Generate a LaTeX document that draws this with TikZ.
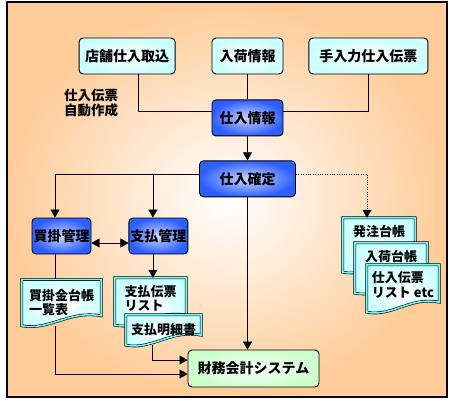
\documentclass[tikz,border=0pt]{standalone}
\usepackage{fontspec}
\setmainfont{Noto Sans CJK JP}
\usetikzlibrary{arrows.meta,positioning,calc}
\definecolor{bgor}{RGB}{255,204,153}
\definecolor{ltcyan}{RGB}{204,255,255}
\definecolor{midcyan}{RGB}{110,250,255}
\definecolor{nodeblue}{RGB}{45,95,255}
\definecolor{paleblue}{RGB}{205,215,255}
\definecolor{ltgreen}{RGB}{204,255,204}
\pgfdeclarelayer{docs}
\pgfsetlayers{docs,main}
\tikzset{
  box/.style={draw, rounded corners=4pt, line width=0.9pt, minimum height=36pt,
    inner sep=1pt, font=\fontsize{14}{16}\selectfont\bfseries},
  cyanbox/.style={box, inner color=white, outer color=ltcyan},
  bluebox/.style={box, inner color=paleblue, outer color=nodeblue},
  greenbox/.style={box, inner color=white, outer color=ltgreen},
  doc/.style={inner sep=0pt, align=left, font=\fontsize{13}{14.5}\selectfont\bfseries},
  docline/.style={draw=black, line width=0.6pt, double=midcyan, double distance=1.5pt,
    inner color=white, outer color=ltcyan},
}
% document outline: #1 node, #2 extra depth below the node
\newcommand{\docshape}[2]{%
  \shadedraw[docline] (#1.north west) -- (#1.north east) -- ([yshift=10pt-#2]#1.south east)
    .. controls ($([yshift=-#2]#1.south west)!0.6!([yshift=-#2]#1.south east)+(0,16pt)$)
    and ($([yshift=-#2]#1.south west)!0.35!([yshift=-#2]#1.south east)+(0,-5pt)$)
    .. ([yshift=-#2]#1.south west) -- cycle;}

\begin{document}
\begin{tikzpicture}[x=1pt, y=-1pt, >={Triangle[width=9pt,length=8pt]}, line width=1pt]
  \useasboundingbox (0,0) rectangle (452,401);
  \begin{pgfonlayer}{docs}
    \shade[inner color=white, outer color=bgor] (7,2) rectangle (447,397);
    \draw[line width=1.4pt] (7,2) rectangle (447,397);
  \end{pgfonlayer}

  % input boxes
  \node[cyanbox, minimum width=71pt] (arr) at (247.5,56) {入荷情報};
  \node[cyanbox, minimum width=96pt, left=36pt of arr] (shop) {店舗仕入取込};
  \node[cyanbox, minimum width=119pt, right=25pt of arr] (manual) {手入力仕入伝票};
  \node[bluebox, minimum width=71pt, below=25pt of arr] (info) {仕入情報};
  \node[bluebox, minimum width=96pt, below=24pt of info] (fix) {仕入確定};
  \node (auto) at (91,103) [inner sep=0pt, align=left, font=\fontsize{13.5}{11}\selectfont\bfseries] {仕入伝票\\自動作成};

  % management
  \node[bluebox, minimum width=59pt] (kaikake) at (61.5,236) {買掛管理};
  \node[bluebox, minimum width=59pt, right=37pt of kaikake] (shiharai) {支払管理};
  \node[greenbox, minimum width=131pt, minimum height=37pt] (fin) at (253.5,368.5) {財務会計システム};

  % documents
  \node[doc, minimum width=79pt, minimum height=46pt, below=25pt of kaikake] (ledger) {買掛金台帳\\一覧表};
  \node[doc, minimum width=71pt, minimum height=41pt] (slip) at (150.5,298.5) {支払伝票\\リスト};
  \node[doc, minimum width=75pt, minimum height=30pt] (meisai) at (163.5,330) {支払明細書};
  \node[doc, minimum width=72pt, minimum height=28pt] (hacchu) at (379,232) {発注台帳};
  \node[doc, minimum width=72pt, minimum height=26pt] (nyuka) at (391,256) {入荷台帳};
  \node[doc, minimum width=72pt, minimum height=40pt] (slist) at (403,285) {仕入伝票\\リスト etc};
  \begin{pgfonlayer}{docs}
    \docshape{ledger}{0pt}
    \docshape{slip}{6pt}
    \docshape{meisai}{0pt}
    \docshape{hacchu}{26pt}
    \docshape{nyuka}{24pt}
    \docshape{slist}{7pt}
  \end{pgfonlayer}

  % connectors
  \coordinate (split) at ([yshift=5pt]fix.west);
  \coordinate (kk) at ([xshift=-6.5pt]kaikake.north);
  \coordinate (kb) at ([xshift=-6.5pt]kaikake.south);
  \coordinate (sh) at ([xshift=-5.5pt]shiharai.north);
  \coordinate (sb) at ([xshift=-5.5pt]shiharai.south);
  \coordinate (ho) at ([xshift=-12pt]hacchu.north);
  \draw ([xshift=11pt]shop.south) |- ([yshift=6.5pt]info.west);
  \draw (arr.south) -- (info.north);
  \draw (manual.south) |- ([yshift=6.5pt]info.east);
  \draw[->] (info.south) -- (info.south |- fix.north);
  \draw[->] (split) -| (kk);
  \draw[->] (sh |- split) -- (sh);
  \draw[<->] ([yshift=-7pt]kaikake.east) -- ([yshift=-7pt]shiharai.west);
  \draw[->, dotted] ([yshift=5pt]fix.east) -| (ho);
  \draw (kb) -- (kb |- ledger.north);
  \draw[->] (sb) -- (sb |- slip.north);
  \draw[->] ([xshift=-6.5pt]ledger.south) |- ([yshift=-5.5pt]fin.west);
  \draw[->] ([xshift=-11.5pt]meisai.south) |- ([yshift=8.5pt]fin.west);
  \draw[->] (fix.south) -- (fix.south |- fin.north);
\end{tikzpicture}
\end{document}
